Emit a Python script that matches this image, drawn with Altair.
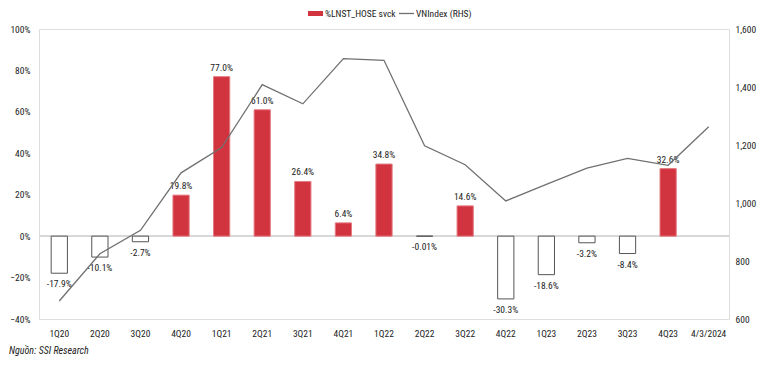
import altair as alt
import pandas as pd

quarters = ["1Q20", "2Q20", "3Q20", "4Q20", "1Q21", "2Q21", "3Q21", "4Q21", "1Q22",
            "2Q22", "3Q22", "4Q22", "1Q23", "2Q23", "3Q23", "4Q23", "4/3/2024"]
lnst_growth = [-17.9, -10.1, -2.7, 19.8, 77.0, 61.0, 26.4, 6.4, 34.8,
               -0.01, 14.6, -30.3, -18.6, -3.2, -8.4, 32.6, None]
label_text = ["-17.9%", "-10.1%", "-2.7%", "19.8%", "77.0%", "61.0%", "26.4%", "6.4%", "34.8%",
              "-0.01%", "14.6%", "-30.3%", "-18.6%", "-3.2%", "-8.4%", "32.6%", None]
vnindex = [662, 825, 906, 1104, 1191, 1408, 1342, 1498, 1492,
           1197, 1132, 1007, 1064, 1120, 1154, 1130, 1263]

df = pd.DataFrame({
    "q": quarters,
    "g": [v / 100 if v is not None else None for v in lnst_growth],
    "lab": label_text,
    "vn": vnindex,
})
bars_df = df.dropna(subset=["g"]).copy()

FONT = "Liberation Sans Narrow, Roboto Condensed, Arial Narrow, Liberation Sans, sans-serif"
RED = "#D1343F"

xs = alt.X("q:N", sort=quarters, title=None,
           scale=alt.Scale(paddingInner=0.6, paddingOuter=0.3),
           axis=alt.Axis(labelAngle=0, domain=False, ticks=False, labelPadding=9,
                         labelFontSize=9.5, labelFont=FONT, labelColor="#222"))

yleft = alt.Y("g:Q", title=None,
              scale=alt.Scale(domain=[-0.4, 1.0], nice=False),
              axis=alt.Axis(format=".0%", values=[-0.4, -0.2, 0, 0.2, 0.4, 0.6, 0.8, 1.0],
                            domain=False, ticks=False, grid=False, labelPadding=9,
                            labelFontSize=9.5, labelFont=FONT, labelColor="#222"))

base = alt.Chart(bars_df)

zero = base.mark_rule(color="#d9d9d9", strokeWidth=1).encode(
    y=alt.datum(0), x=alt.value(0), x2=alt.value(690))

bars = base.mark_bar(strokeWidth=1).encode(
    x=xs,
    y=yleft,
    fill=alt.condition("datum.g >= 0", alt.value(RED), alt.value("white")),
    stroke=alt.condition("datum.g >= 0", alt.value("#E57A82"), alt.value("#555555")),
)

pos_lab = base.transform_filter("datum.g >= 0").mark_text(
    baseline="bottom", dy=-4, fontSize=9.5, font=FONT, color="#222").encode(
    x=alt.X("q:N", sort=quarters), y=alt.Y("g:Q"), text="lab:N")

neg_lab = base.transform_filter("datum.g < 0").mark_text(
    baseline="top", dy=6, fontSize=9.5, font=FONT, color="#222").encode(
    x=alt.X("q:N", sort=quarters), y=alt.Y("g:Q"), text="lab:N")

left = alt.layer(zero, bars, pos_lab, neg_lab)

line = alt.Chart(df).mark_line(color="#707070", strokeWidth=1.3).encode(
    x=alt.X("q:N", sort=quarters),
    y=alt.Y("vn:Q", title=None,
            scale=alt.Scale(domain=[600, 1600], nice=False),
            axis=alt.Axis(orient="right", format=",.0f", values=[600, 800, 1000, 1200, 1400, 1600],
                          domain=False, ticks=False, grid=False, labelPadding=6,
                          labelFontSize=9.5, labelFont=FONT, labelColor="#222")),
)

leg_df = pd.DataFrame({"a": [0]})
leg = alt.Chart(leg_df)
leg_rect = leg.mark_rect(color=RED).encode(
    x=alt.value(269), x2=alt.value(284), y=alt.value(-18), y2=alt.value(-13))
leg_t1 = leg.mark_text(align="left", baseline="middle", fontSize=9.5, font=FONT, color="#222").encode(
    x=alt.value(286), y=alt.value(-15.5), text=alt.value("%LNST_HOSE svck"))
leg_line = leg.mark_rule(color="#707070", strokeWidth=1.3).encode(
    x=alt.value(360), x2=alt.value(375), y=alt.value(-15.5))
leg_t2 = leg.mark_text(align="left", baseline="middle", fontSize=9.5, font=FONT, color="#222").encode(
    x=alt.value(377), y=alt.value(-15.5), text=alt.value("VNIndex (RHS)"))
src = leg.mark_text(align="left", baseline="alphabetic", fontSize=10, font=FONT,
                    fontStyle="italic", color="#222").encode(
    x=alt.value(-30), y=alt.value(325), text=alt.value("Nguồn: SSI Research"))
mark = leg.mark_rect(color=RED).encode(
    x=alt.value(723), x2=alt.value(725), y=alt.value(322), y2=alt.value(329))

chart = alt.layer(left, line, leg_rect, leg_t1, leg_line, leg_t2, src, mark).resolve_scale(
    y="independent"
).properties(
    width=690, height=290,
    autosize=alt.AutoSizeParams(type="none"),
    padding={"left": 31, "top": 21, "right": 28, "bottom": 39},
).configure_view(stroke=None).configure(background="white")

chart.save("out.html", embed_options={"renderer": "svg", "actions": False})
